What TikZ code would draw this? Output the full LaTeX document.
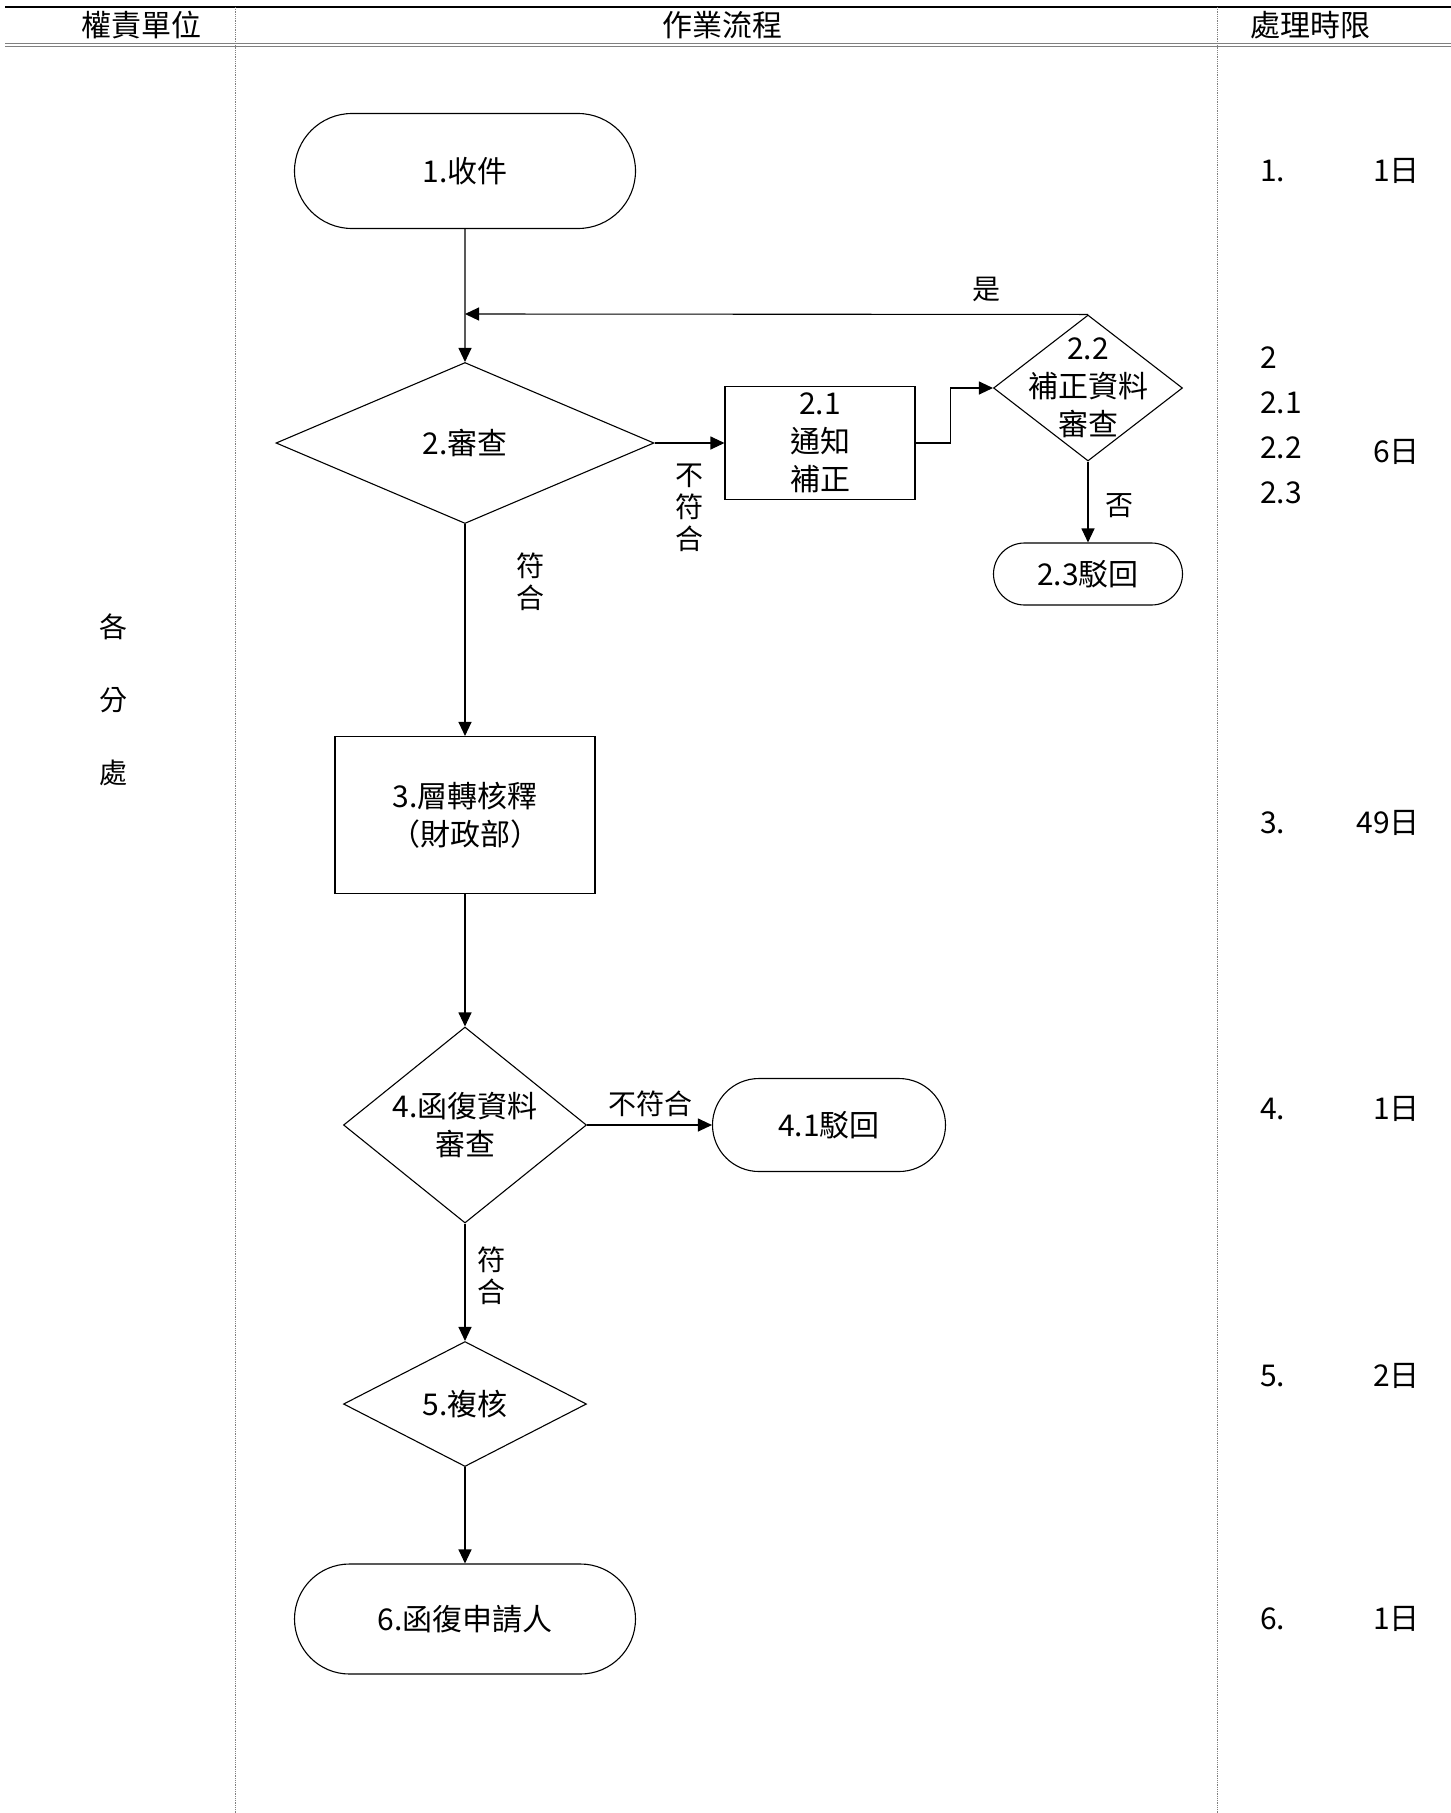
\documentclass[tikz,border=0pt]{standalone}
\usepackage{fontspec}
\setmainfont{Noto Sans CJK TC}
\usetikzlibrary{shapes.geometric,shapes.misc,arrows.meta}

\begin{document}
\begin{tikzpicture}[x=1pt,y=-1pt,
  every node/.style={font=\fontsize{30}{38}\selectfont, inner sep=0pt},
  term/.style 2 args={rounded rectangle, draw, line width=1.1pt, minimum width=#1pt, minimum height=#2pt},
  proc/.style 2 args={rectangle, draw, line width=1.1pt, minimum width=#1pt, minimum height=#2pt, align=center},
  dec/.style 2 args={diamond, draw, line width=1.1pt, minimum width=#1pt, minimum height=#2pt, align=center},
  arr/.style={line width=1.1pt, -{Triangle[length=14pt,width=13pt]}},
  lab/.style={align=center, font=\fontsize{28}{32}\selectfont}]
 \useasboundingbox (0,0) rectangle (1451,1813);

 \draw[line width=1.2pt] (5,7) -- (1451,7);
 \draw[gray, double, double distance=1.5pt, line width=0.8pt] (5,45) -- (1451,45);
 \draw[gray, densely dotted, line width=0.8pt] (235,7) -- (235,1813);
 \draw[gray, densely dotted, line width=0.8pt] (1217,7) -- (1217,1813);
 \node (h1) at (141,25) {權責單位};
 \node (h2) at (722,25) {作業流程};
 \node (h3) at (1310,25) {處理時限};

 \node[font=\fontsize{28}{73}\selectfont, align=center] (unit) at (113,700) {各\\分\\處};

 \node[term={341}{115}] (n1) at (465,171) {1.收件};
 \node[dec={378}{161}] (d2) at (465,443) {2.審查};
 \node[proc={190}{113}] (b21) at (820,443) {2.1\\通知\\補正};
 \node[dec={189}{146}, label={[align=center]center:{2.2\\補正資料\\審查}}] (d22) at (1088,388) {};
 \node[term={189}{62}] (t23) at (1088,574) {2.3駁回};
 \node[proc={260}{157}] (b3) at (465,815) {3.層轉核釋\\（財政部）};
 \node[dec={243}{196}, label={[align=center]center:{4.函復資料\\審查}}] (d4) at (465,1125) {};
 \node[term={233}{93}] (t41) at (829,1125) {4.1駁回};
 \node[dec={243}{125}] (d5) at (465,1404) {5.複核};
 \node[term={341}{110}] (t6) at (465,1619) {6.函復申請人};
 \coordinate (mrg) at (465,314);

 \draw[arr] (n1) -- (d2);
 \draw[arr] (d22.north) -- (mrg);
 \draw[arr] (d2.east) -- (b21.west);
 \draw[arr] (b21.east) -- ++(35,0) |- (d22.west);
 \draw[arr] (d22) -- (t23);
 \draw[arr] (d2) -- (b3);
 \draw[arr] (b3) -- (d4);
 \draw[arr] (d4) -- (t41);
 \draw[arr] (d4) -- (d5);
 \draw[arr] (d5) -- (t6);

 \node[lab] (l1) at (986,289) {是};
 \node[lab] (l2) at (1119,506) {否};
 \node[lab] (l3) at (689,508) {不\\符\\合};
 \node[lab] (l4) at (530,582) {符\\合};
 \node[lab] (l5) at (650,1104) {不符合};
 \node[lab] (l6) at (491,1276) {符\\合};

 \node[anchor=west] (r1) at (1260,171) {1.};
 \node[anchor=east] (s1) at (1420,171) {1日};
 \node[anchor=west, align=left, font=\fontsize{30}{45}\selectfont] (r2) at (1260,425) {2\\2.1\\2.2\\2.3};
 \node[anchor=east] (s2) at (1420,452) {6日};
 \node[anchor=west] (r3) at (1260,823) {3.};
 \node[anchor=east] (s3) at (1420,823) {49日};
 \node[anchor=west] (r4) at (1260,1109) {4.};
 \node[anchor=east] (s4) at (1420,1109) {1日};
 \node[anchor=west] (r5) at (1260,1376) {5.};
 \node[anchor=east] (s5) at (1420,1376) {2日};
 \node[anchor=west] (r6) at (1260,1619) {6.};
 \node[anchor=east] (s6) at (1420,1619) {1日};
\end{tikzpicture}
\end{document}
